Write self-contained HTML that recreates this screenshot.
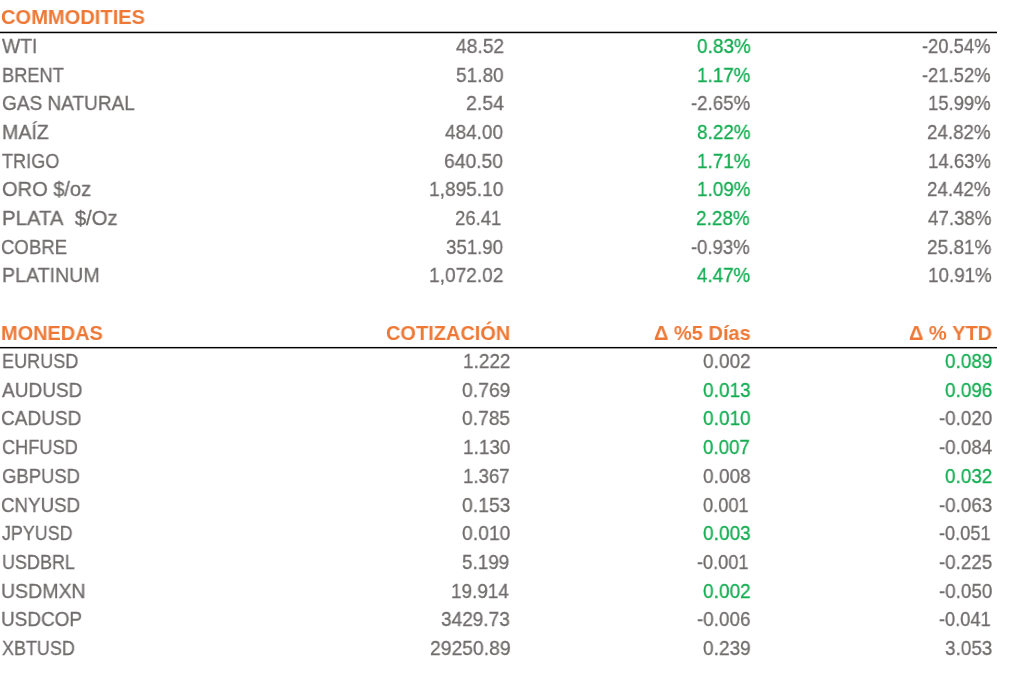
<!DOCTYPE html>
<html><head><meta charset="utf-8"><style>
html,body{margin:0;padding:0;background:#fff;position:relative;overflow:hidden}
.t{position:absolute;font-family:"Liberation Sans",sans-serif;font-size:20.6px;line-height:23px;white-space:nowrap;-webkit-text-stroke:0.3px currentColor;transform-origin:0 0;will-change:transform}
.n{color:#706c6c}
.g{color:#15ad52}
.h{color:#ee7936;font-weight:bold;-webkit-text-stroke:0}
.ln{position:absolute;left:0;width:997px;height:1px;background:#000}
html,body{width:1024px;height:682px}
</style></head><body>
<div class="t h" style="left:1.02px;top:5.00px;transform:scaleX(0.9760)">COMMODITIES</div>
<div class="ln" style="top:32px;box-shadow:0 -1px 0 #b4b4b4,0 1px 0 #c4c4c4"></div>
<div class="t n" style="left:2.20px;top:34.00px;transform:scaleX(0.9361)">WTI</div>
<div class="t n" style="left:456.00px;top:34.00px;transform:scaleX(0.9333)">48.52</div>
<div class="t g" style="left:696.70px;top:34.00px;transform:scaleX(0.9207)">0.83%</div>
<div class="t n" style="left:922.00px;top:34.00px;transform:scaleX(0.8922)">-20.54%</div>
<div class="t n" style="left:1.71px;top:63.00px;transform:scaleX(0.8855)">BRENT</div>
<div class="t n" style="left:456.40px;top:63.00px;transform:scaleX(0.9255)">51.80</div>
<div class="t g" style="left:697.09px;top:63.00px;transform:scaleX(0.9140)">1.17%</div>
<div class="t n" style="left:922.00px;top:63.00px;transform:scaleX(0.8922)">-21.52%</div>
<div class="t n" style="left:1.68px;top:91.00px;transform:scaleX(0.9245)">GAS NATURAL</div>
<div class="t n" style="left:465.75px;top:91.00px;transform:scaleX(0.9462)">2.54</div>
<div class="t n" style="left:691.20px;top:91.00px;transform:scaleX(0.9062)">-2.65%</div>
<div class="t n" style="left:928.00px;top:91.00px;transform:scaleX(0.8957)">15.99%</div>
<div class="t n" style="left:1.65px;top:120.00px;transform:scaleX(0.9521)">MAÍZ</div>
<div class="t n" style="left:445.20px;top:120.00px;transform:scaleX(0.9222)">484.00</div>
<div class="t g" style="left:697.20px;top:120.00px;transform:scaleX(0.9172)">8.22%</div>
<div class="t n" style="left:927.29px;top:120.00px;transform:scaleX(0.9101)">24.82%</div>
<div class="t n" style="left:2.20px;top:149.00px;transform:scaleX(0.8785)">TRIGO</div>
<div class="t n" style="left:444.26px;top:149.00px;transform:scaleX(0.9371)">640.50</div>
<div class="t g" style="left:697.28px;top:149.00px;transform:scaleX(0.9158)">1.71%</div>
<div class="t n" style="left:927.90px;top:149.00px;transform:scaleX(0.9014)">14.63%</div>
<div class="t n" style="left:2.20px;top:177.00px;transform:scaleX(0.9736)">ORO $/oz</div>
<div class="t n" style="left:429.07px;top:177.00px;transform:scaleX(0.9278)">1,895.10</div>
<div class="t g" style="left:697.28px;top:177.00px;transform:scaleX(0.9158)">1.09%</div>
<div class="t n" style="left:927.29px;top:177.00px;transform:scaleX(0.9101)">24.42%</div>
<div class="t n" style="left:1.61px;top:206.00px;transform:scaleX(0.9879)">PLATA&nbsp; $/Oz</div>
<div class="t n" style="left:455.20px;top:206.00px;transform:scaleX(0.8980)">26.41</div>
<div class="t g" style="left:696.28px;top:206.00px;transform:scaleX(0.9193)">2.28%</div>
<div class="t n" style="left:928.10px;top:206.00px;transform:scaleX(0.9086)">47.38%</div>
<div class="t n" style="left:1.30px;top:235.00px;transform:scaleX(0.9014)">COBRE</div>
<div class="t n" style="left:446.20px;top:235.00px;transform:scaleX(0.9063)">351.90</div>
<div class="t n" style="left:691.20px;top:235.00px;transform:scaleX(0.8985)">-0.93%</div>
<div class="t n" style="left:927.18px;top:235.00px;transform:scaleX(0.9217)">25.81%</div>
<div class="t n" style="left:1.65px;top:263.00px;transform:scaleX(0.9520)">PLATINUM</div>
<div class="t n" style="left:429.07px;top:263.00px;transform:scaleX(0.9278)">1,072.02</div>
<div class="t g" style="left:696.80px;top:263.00px;transform:scaleX(0.9103)">4.47%</div>
<div class="t n" style="left:927.79px;top:263.00px;transform:scaleX(0.9130)">10.91%</div>
<div class="t h" style="left:1.03px;top:321.00px;transform:scaleX(0.9673)">MONEDAS</div>
<div class="t h" style="left:385.83px;top:321.00px;transform:scaleX(0.9698)">COTIZACIÓN</div>
<div class="t h" style="left:653.83px;top:321.00px;transform:scaleX(0.9724)">Δ %5 Días</div>
<div class="t h" style="left:908.93px;top:321.00px;transform:scaleX(0.9702)">Δ % YTD</div>
<div class="t n" style="left:1.52px;top:349.00px;transform:scaleX(0.8788)">EURUSD</div>
<div class="t n" style="left:462.58px;top:349.00px;transform:scaleX(0.9200)">1.222</div>
<div class="t n" style="left:703.40px;top:349.00px;transform:scaleX(0.9255)">0.002</div>
<div class="t g" style="left:945.00px;top:349.00px;transform:scaleX(0.9176)">0.089</div>
<div class="t n" style="left:1.90px;top:378.00px;transform:scaleX(0.9256)">AUDUSD</div>
<div class="t n" style="left:461.60px;top:378.00px;transform:scaleX(0.9392)">0.769</div>
<div class="t g" style="left:703.40px;top:378.00px;transform:scaleX(0.9255)">0.013</div>
<div class="t g" style="left:945.00px;top:378.00px;transform:scaleX(0.9176)">0.096</div>
<div class="t n" style="left:1.48px;top:406.00px;transform:scaleX(0.9247)">CADUSD</div>
<div class="t n" style="left:461.90px;top:406.00px;transform:scaleX(0.9333)">0.785</div>
<div class="t g" style="left:703.40px;top:406.00px;transform:scaleX(0.9255)">0.010</div>
<div class="t n" style="left:939.00px;top:406.00px;transform:scaleX(0.9103)">-0.020</div>
<div class="t n" style="left:1.52px;top:435.00px;transform:scaleX(0.8833)">CHFUSD</div>
<div class="t n" style="left:462.58px;top:435.00px;transform:scaleX(0.9200)">1.130</div>
<div class="t g" style="left:703.40px;top:435.00px;transform:scaleX(0.9078)">0.007</div>
<div class="t n" style="left:939.00px;top:435.00px;transform:scaleX(0.9103)">-0.084</div>
<div class="t n" style="left:1.50px;top:464.00px;transform:scaleX(0.8976)">GBPUSD</div>
<div class="t n" style="left:462.60px;top:464.00px;transform:scaleX(0.9040)">1.367</div>
<div class="t n" style="left:703.40px;top:464.00px;transform:scaleX(0.9255)">0.008</div>
<div class="t g" style="left:945.00px;top:464.00px;transform:scaleX(0.9176)">0.032</div>
<div class="t n" style="left:1.49px;top:493.00px;transform:scaleX(0.9106)">CNYUSD</div>
<div class="t n" style="left:461.60px;top:493.00px;transform:scaleX(0.9392)">0.153</div>
<div class="t n" style="left:703.40px;top:493.00px;transform:scaleX(0.8843)">0.001</div>
<div class="t n" style="left:939.00px;top:493.00px;transform:scaleX(0.9103)">-0.063</div>
<div class="t n" style="left:1.60px;top:521.00px;transform:scaleX(0.8667)">JPYUSD</div>
<div class="t n" style="left:461.60px;top:521.00px;transform:scaleX(0.9392)">0.010</div>
<div class="t g" style="left:703.40px;top:521.00px;transform:scaleX(0.9255)">0.003</div>
<div class="t n" style="left:939.00px;top:521.00px;transform:scaleX(0.8828)">-0.051</div>
<div class="t n" style="left:2.03px;top:550.00px;transform:scaleX(0.8732)">USDBRL</div>
<div class="t n" style="left:462.30px;top:550.00px;transform:scaleX(0.9157)">5.199</div>
<div class="t n" style="left:697.40px;top:550.00px;transform:scaleX(0.8810)">-0.001</div>
<div class="t n" style="left:939.00px;top:550.00px;transform:scaleX(0.9103)">-0.225</div>
<div class="t n" style="left:1.45px;top:579.00px;transform:scaleX(0.9483)">USDMXN</div>
<div class="t n" style="left:451.48px;top:579.00px;transform:scaleX(0.9177)">19.914</div>
<div class="t g" style="left:703.20px;top:579.00px;transform:scaleX(0.9255)">0.002</div>
<div class="t n" style="left:938.90px;top:579.00px;transform:scaleX(0.9121)">-0.050</div>
<div class="t n" style="left:1.48px;top:607.00px;transform:scaleX(0.9209)">USDCOP</div>
<div class="t n" style="left:440.90px;top:607.00px;transform:scaleX(0.9243)">3429.73</div>
<div class="t n" style="left:697.30px;top:607.00px;transform:scaleX(0.9155)">-0.006</div>
<div class="t n" style="left:938.90px;top:607.00px;transform:scaleX(0.8845)">-0.041</div>
<div class="t n" style="left:1.60px;top:636.00px;transform:scaleX(0.8711)">XBTUSD</div>
<div class="t n" style="left:429.56px;top:636.00px;transform:scaleX(0.9381)">29250.89</div>
<div class="t n" style="left:703.20px;top:636.00px;transform:scaleX(0.9255)">0.239</div>
<div class="t n" style="left:945.00px;top:636.00px;transform:scaleX(0.9176)">3.053</div>
<div class="ln" style="top:347px;box-shadow:0 -1px 0 #f0f0f0,0 1px 0 #9a9a9a"></div>
</body></html>
